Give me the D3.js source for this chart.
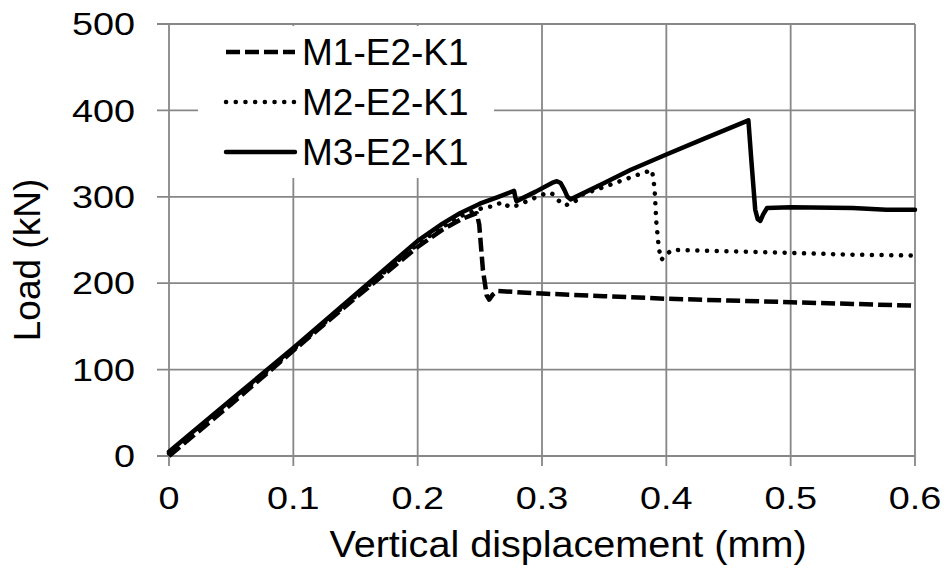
<!DOCTYPE html>
<html>
<head>
<meta charset="utf-8">
<script src="https://cdn.jsdelivr.net/npm/d3@7"></script>
<style>
  body { margin: 0; background: #fff; }
  svg text { font-family: "Liberation Sans", Arial, sans-serif; fill: #000; }
</style>
</head>
<body>
<svg id="chart" width="946" height="570"></svg>
<script>
const xTicks = [0, 0.1, 0.2, 0.3, 0.4, 0.5, 0.6];
const yTicks = [0, 100, 200, 300, 400, 500];
const seriesNames = ["M1-E2-K1", "M2-E2-K1", "M3-E2-K1"];

// [displacement (mm), load (kN)]
const m1Points = [
  [0, 0], [0.05, 60], [0.1, 122], [0.15, 183], [0.2, 242], [0.22, 262],
  [0.235, 274], [0.2475, 281], [0.2495, 268], [0.2525, 215], [0.2555, 186],
  [0.2575, 181], [0.2605, 187], [0.264, 191], [0.3, 188], [0.35, 185],
  [0.4, 182], [0.45, 180], [0.5, 178], [0.55, 176], [0.6, 174],
];
const m2Points = [
  [0, 3], [0.05, 63], [0.1, 123], [0.15, 185], [0.2, 245], [0.22, 265],
  [0.235, 278], [0.254, 288], [0.261, 289], [0.268, 294], [0.274, 288],
  [0.28, 290], [0.2945, 299], [0.305, 305], [0.309, 303], [0.313, 296],
  [0.3186, 290], [0.326, 294], [0.333, 303], [0.355, 314], [0.376, 325],
  [0.3885, 331], [0.3905, 310], [0.392, 270], [0.394, 240], [0.396, 227],
  [0.399, 232], [0.4045, 238.5], [0.45, 237], [0.5, 235], [0.55, 233], [0.6, 232],
];
const m3Points = [
  [0, 5], [0.05, 65], [0.1, 125], [0.15, 187], [0.2, 249], [0.22, 269],
  [0.234, 281], [0.25, 292], [0.265, 300], [0.2775, 307], [0.2785, 300],
  [0.2795, 295], [0.295, 306], [0.308, 316], [0.312, 318], [0.315, 316],
  [0.318, 308], [0.3205, 300], [0.323, 297], [0.35, 316], [0.371, 331],
  [0.4, 349], [0.43, 367], [0.466, 388.5], [0.4685, 340], [0.4715, 285],
  [0.4735, 274], [0.4755, 272], [0.478, 280], [0.481, 287], [0.5, 288],
  [0.55, 287], [0.577, 285], [0.6, 285],
];

const series = [
  { name: seriesNames[0], points: m1Points, dash: "14 5", cap: "butt" },
  { name: seriesNames[1], points: m2Points, dash: "0.1 9.6", cap: "round" },
  { name: seriesNames[2], points: m3Points, dash: null, cap: "round" },
];

const svg = d3.select("#chart");
const gridColor = "#878787";

const x = d3.scaleLinear().domain([0, 0.6]).range([169, 915]);
const y = d3.scaleLinear().domain([0, 500]).range([456, 24]);

// grid
svg.append("g")
  .selectAll("line.v")
  .data(xTicks)
  .join("line")
  .attr("x1", (d) => x(d)).attr("x2", (d) => x(d))
  .attr("y1", y(500)).attr("y2", y(0) + 10)
  .attr("stroke", gridColor).attr("stroke-width", 1.8);

svg.append("g")
  .selectAll("line.h")
  .data(yTicks)
  .join("line")
  .attr("x1", x(0) - 12).attr("x2", x(0.6))
  .attr("y1", (d) => y(d)).attr("y2", (d) => y(d))
  .attr("stroke", gridColor).attr("stroke-width", 1.8);

// tick labels (slightly wide glyphs in the reference)
svg.append("g")
  .selectAll("text")
  .data(yTicks)
  .join("text")
  .attr("transform", (d) => `translate(135,${y(d)}) scale(1.22,1)`)
  .attr("dy", "0.36em")
  .attr("text-anchor", "end")
  .attr("font-size", 31)
  .text((d) => d);

svg.append("g")
  .selectAll("text")
  .data(xTicks)
  .join("text")
  .attr("transform", (d) => `translate(${x(d)},509) scale(1.22,1)`)
  .attr("text-anchor", "middle")
  .attr("font-size", 31)
  .text((d) => (d === 0 ? "0" : d3.format(".1f")(d)));

// axis titles
svg.append("text")
  .attr("transform", "translate(568,557) scale(1.07,1)")
  .attr("text-anchor", "middle")
  .attr("font-size", 37)
  .text("Vertical displacement (mm)");

svg.append("text")
  .attr("transform", "translate(40,260) rotate(-90)")
  .attr("text-anchor", "middle")
  .attr("font-size", 37)
  .text("Load (kN)");

// curves
const line = d3.line()
  .x((d) => x(d[0]))
  .y((d) => y(d[1]));

svg.append("g")
  .selectAll("path")
  .data(series)
  .join("path")
  .attr("d", (d) => line(d.points))
  .attr("fill", "none")
  .attr("stroke", "#000")
  .attr("stroke-width", 4.5)
  .attr("stroke-linejoin", "round")
  .attr("stroke-linecap", (d) => d.cap)
  .attr("stroke-dasharray", (d) => d.dash);

// legend
const legend = svg.append("g");
legend.append("rect")
  .attr("x", 198).attr("y", 26)
  .attr("width", 296).attr("height", 152)
  .attr("fill", "#fff");

const rows = legend.selectAll("g.item")
  .data(series)
  .join("g")
  .attr("transform", (d, i) => `translate(0,${52 + i * 50})`);

rows.append("line")
  .attr("x1", 226).attr("x2", 295)
  .attr("y1", 0).attr("y2", 0)
  .attr("stroke", "#000")
  .attr("stroke-width", 4.5)
  .attr("stroke-linecap", (d) => d.cap)
  .attr("stroke-dasharray", (d) => d.dash);

rows.append("text")
  .attr("x", 302)
  .attr("y", 13)
  .attr("font-size", 37)
  .text((d) => d.name);
</script>
</body>
</html>
